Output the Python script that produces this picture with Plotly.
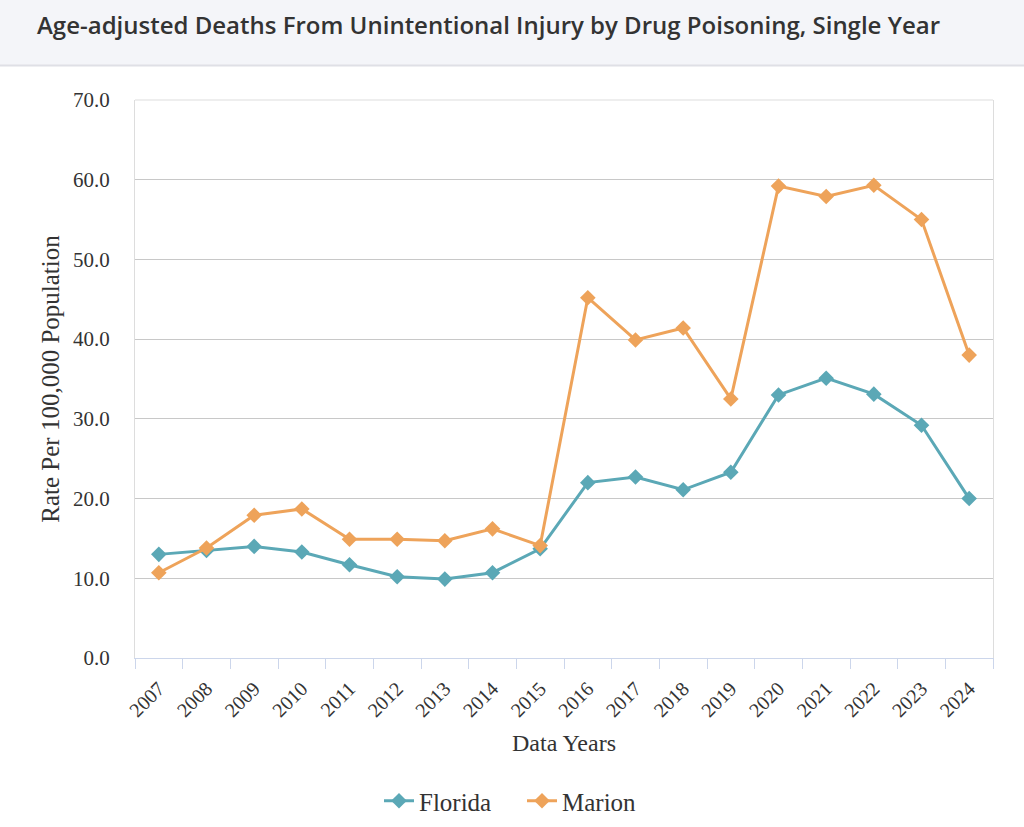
import plotly.graph_objects as go

years = [str(y) for y in range(2007, 2025)]
florida = [13.0, 13.5, 14.0, 13.3, 11.7, 10.2, 9.9, 10.7, 13.7, 22.0, 22.7, 21.1, 23.3, 33.0, 35.1, 33.1, 29.2, 20.0]
marion = [10.7, 13.8, 17.9, 18.7, 14.9, 14.9, 14.7, 16.2, 14.1, 45.2, 39.9, 41.4, 32.5, 59.2, 57.9, 59.3, 55.0, 38.0]

FL_COLOR = "#5ba8b6"
MA_COLOR = "#eea35a"
SERIF = "Liberation Serif, Times New Roman, serif"

W, H = 1024, 827
ML, MR, MT, MB = 135, 31, 100, 169
PW, PH = W - ML - MR, H - MT - MB

fig = go.Figure()
fig.add_trace(go.Scatter(x=years, y=florida, name="Florida", mode="lines+markers",
                         line=dict(color=FL_COLOR, width=3),
                         marker=dict(symbol="diamond", size=12, color=FL_COLOR)))
fig.add_trace(go.Scatter(x=years, y=marion, name="Marion", mode="lines+markers",
                         line=dict(color=MA_COLOR, width=3),
                         marker=dict(symbol="diamond", size=12, color=MA_COLOR)))

def px_x(p):
    return (p - ML) / PW

def px_y(p):
    return 1 - (p - MT) / PH

shapes = [
    # header band
    dict(type="rect", xref="paper", yref="paper", x0=px_x(0), x1=px_x(W), y0=px_y(65), y1=px_y(0),
         fillcolor="#f4f5f9", line=dict(width=0), layer="below"),
    dict(type="line", xref="paper", yref="paper", x0=px_x(0), x1=px_x(W), y0=px_y(65.5), y1=px_y(65.5),
         line=dict(color="#dfe0e6", width=2)),
    # top plot border
    dict(type="line", xref="paper", yref="paper", x0=0, x1=1, y0=1, y1=1,
         line=dict(color="#dddddd", width=1)),
]

fig.update_layout(
    width=W, height=H,
    margin=dict(l=ML, r=MR, t=MT, b=MB, autoexpand=False),
    paper_bgcolor="white", plot_bgcolor="white",
    shapes=shapes,
    showlegend=True,
    legend=dict(orientation="h", xref="container", x=0.5 + 10 / W, xanchor="center",
                yref="container", y=1 - 801 / H, yanchor="middle",
                font=dict(family=SERIF, size=25, color="#333333"),
                traceorder="normal", itemwidth=30, entrywidth=98),
    annotations=[
        dict(text="Age-adjusted Deaths From Unintentional Injury by Drug Poisoning, Single Year",
             xref="paper", yref="paper", x=px_x(35), y=px_y(24), xanchor="left", yanchor="middle",
             showarrow=False, font=dict(family="Open Sans", size=24, color="#333333", weight=600)),
    ],
    xaxis=dict(
        type="category", range=[-0.5, 17.5], tickson="boundaries", ticks="outside", ticklen=10,
        tickcolor="#ccd6eb", automargin=False,
        showline=True, linecolor="#ccd6eb", linewidth=1, showgrid=False,
        tickangle=-45, ticklabelstandoff=10,
        tickfont=dict(family=SERIF, size=20, color="#333333"),
        title=dict(text="Data Years", font=dict(family=SERIF, size=24, color="#333333"), standoff=14),
    ),
    yaxis=dict(
        range=[0, 70], dtick=10, tickformat=".1f", showgrid=True, gridcolor="#c8c8c8", gridwidth=1,
        showline=True, linecolor="#dddddd", mirror=True, zeroline=False, automargin=False,
        ticklabelstandoff=20,
        tickfont=dict(family=SERIF, size=21, color="#333333"),
        title=dict(text="Rate Per 100,000 Population", font=dict(family=SERIF, size=25, color="#333333"), standoff=6),
    ),
)

fig.write_html("out.html")
